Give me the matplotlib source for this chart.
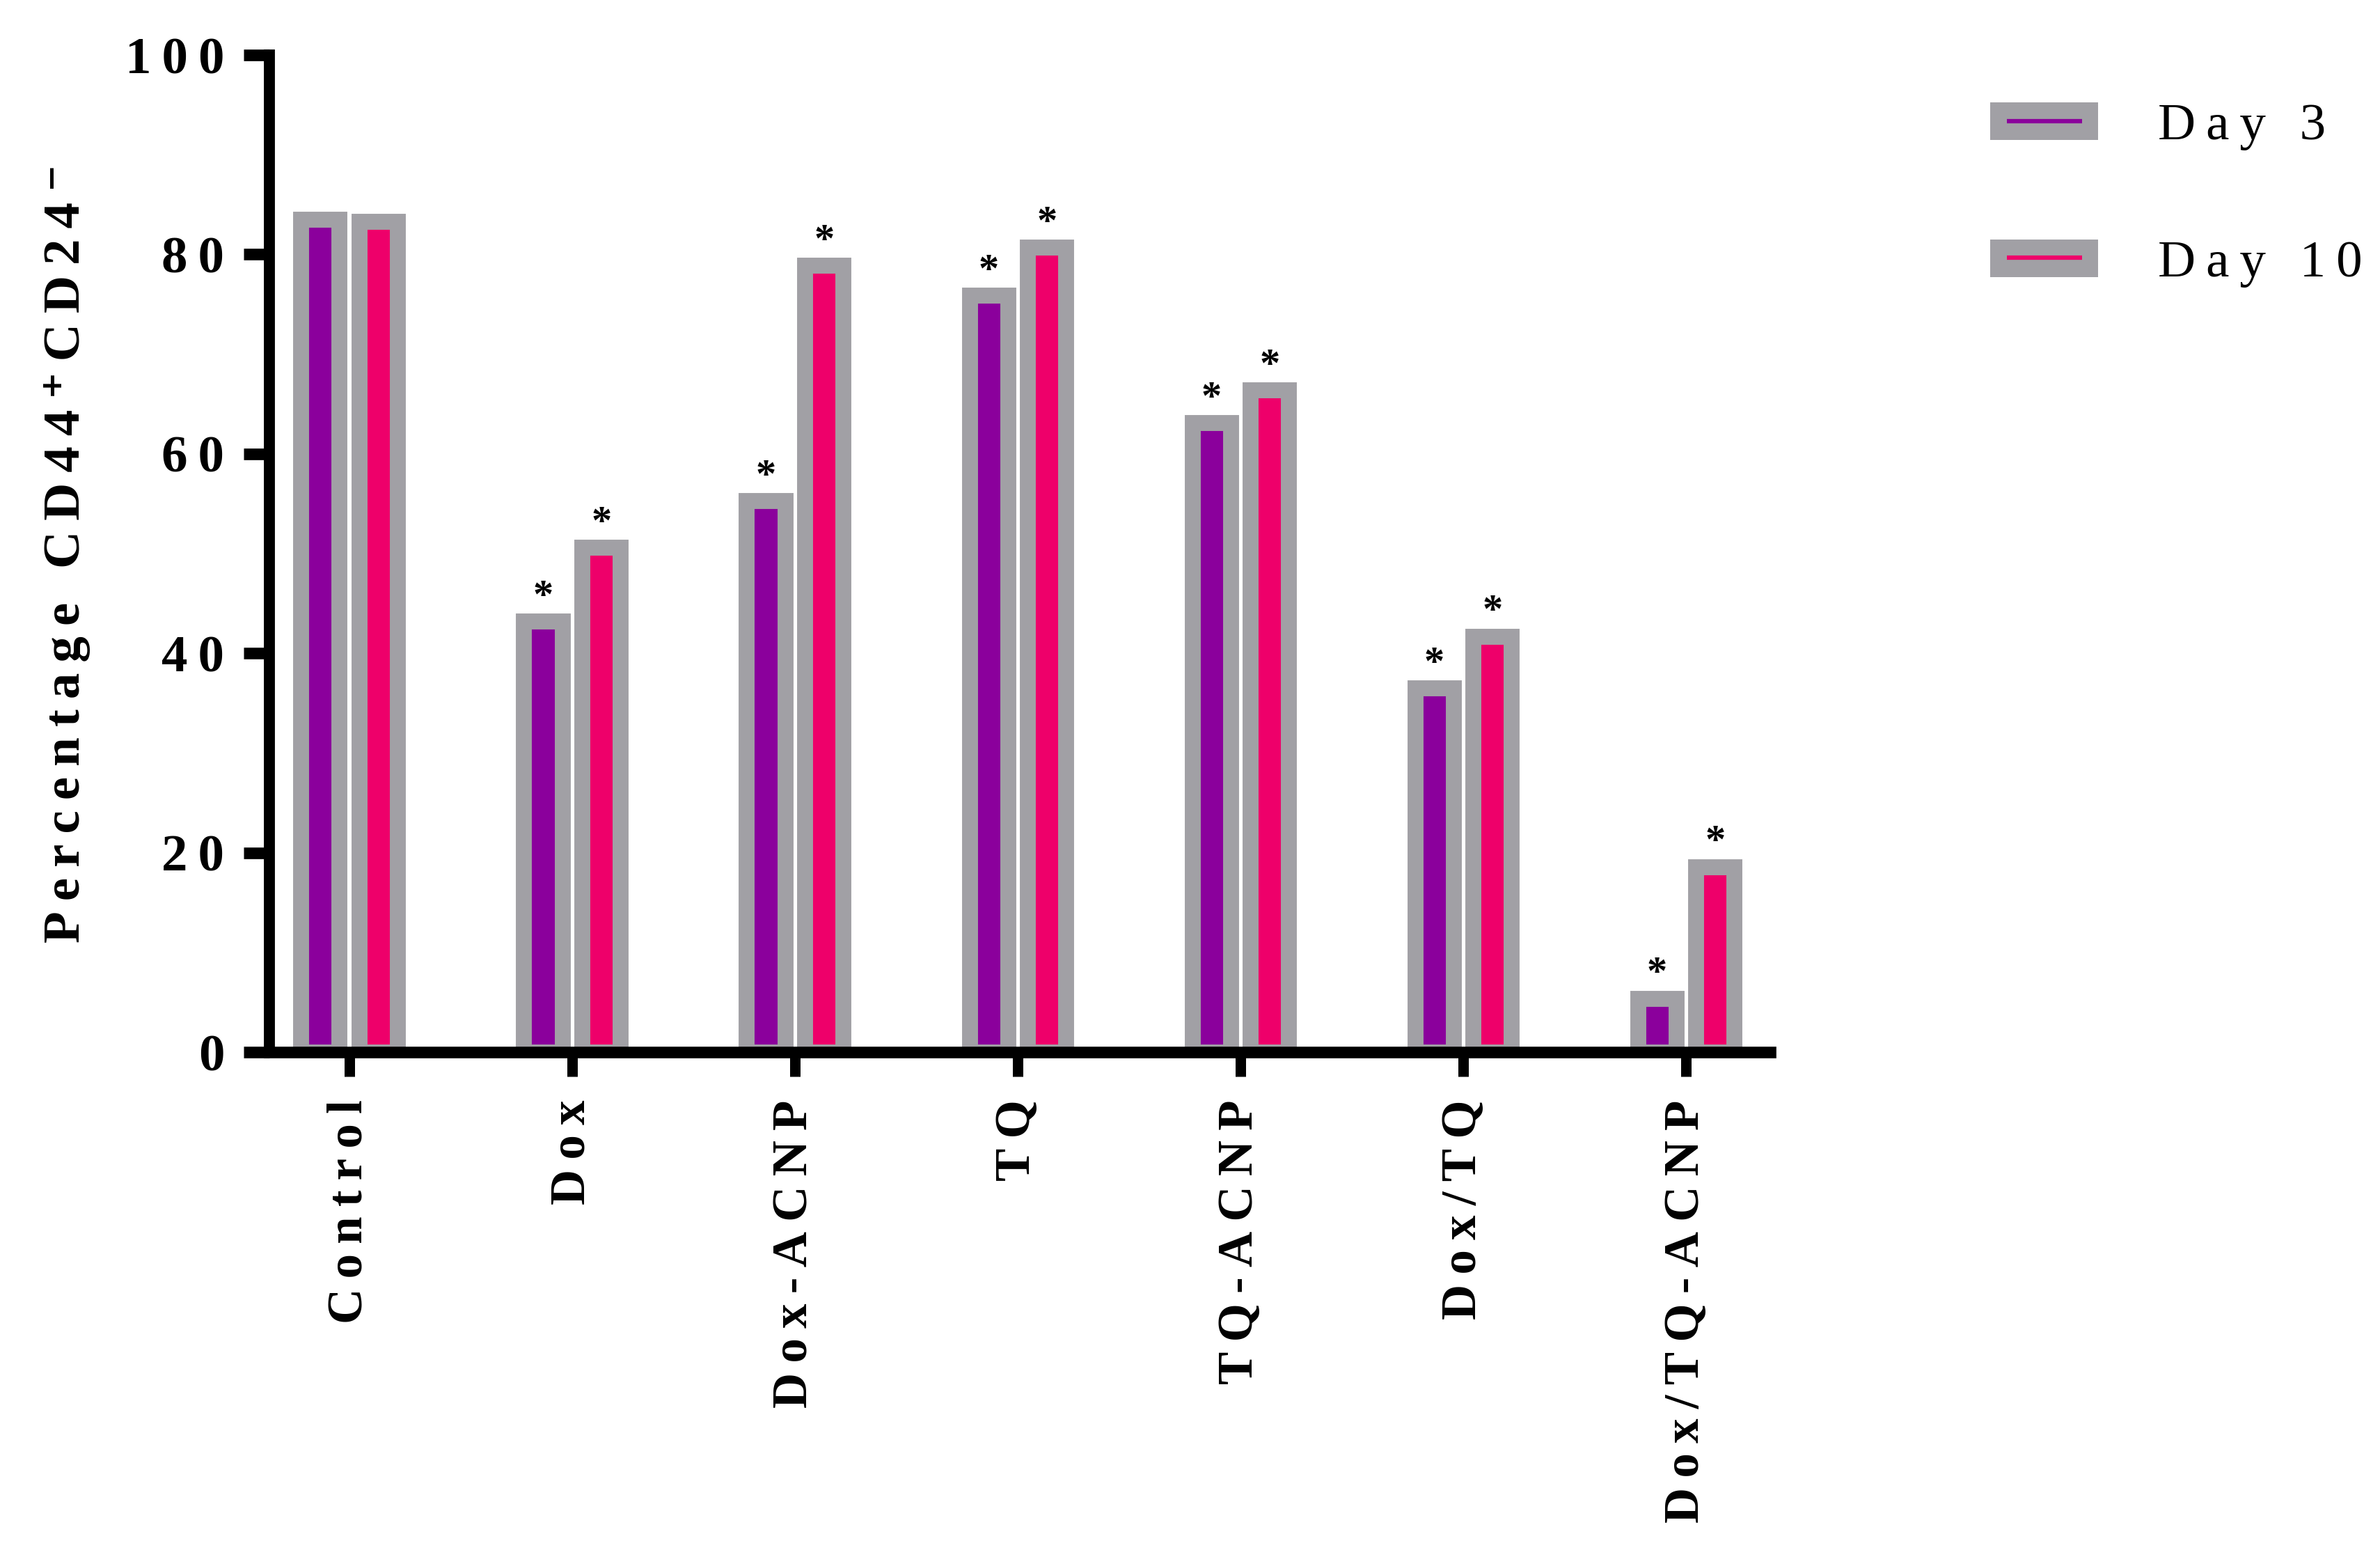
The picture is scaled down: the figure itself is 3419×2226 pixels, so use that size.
import matplotlib
matplotlib.use('Agg')
import matplotlib.pyplot as plt
from matplotlib.patches import Patch
from matplotlib.lines import Line2D
import numpy as np

# data
groups = ['Control', 'Dox', 'Dox-ACNP', 'TQ', 'TQ-ACNP', 'Dox/TQ', 'Dox/TQ-ACNP']
day3 = [83.5, 43.2, 55.3, 75.9, 63.1, 36.5, 5.4]
day10 = [83.3, 50.6, 78.9, 80.7, 66.4, 41.7, 18.6]
sig_day3 = [False, True, True, True, True, True, True]
sig_day10 = [False, True, True, True, True, True, True]
yticks = [0, 20, 40, 60, 80, 100]
series_labels = ['Day 3', 'Day 10']
ylabel = 'Percentage CD44\u207aCD24\u207b'

purple = '#8B009C'
pink = '#EE006A'
gray = '#A1A0A5'

plt.rcParams['font.family'] = ['Liberation Serif', 'DejaVu Serif']


def spaced(s):
    # the original uses wide letter spacing
    return '\u2009'.join(s)


fig = plt.figure(figsize=(3419 / 300, 2226 / 300), dpi=300)
ax = fig.add_axes([387 / 3419, 1 - 1511 / 2226, (2543 - 387) / 3419, (1511 - 79) / 2226])

x = np.arange(len(groups))
width = 0.172
offset = 0.131
edge = 5.5

ax.bar(x - offset, day3, width, color=purple, edgecolor=gray, linewidth=edge)
ax.bar(x + offset, day10, width, color=pink, edgecolor=gray, linewidth=edge)

# significance stars
for xi, v, s in zip(x - offset, day3, sig_day3):
    if s:
        ax.text(xi, v + 0.6, '*', ha='center', va='bottom', fontsize=14, fontweight='bold')
for xi, v, s in zip(x + offset, day10, sig_day10):
    if s:
        ax.text(xi, v + 0.6, '*', ha='center', va='bottom', fontsize=14, fontweight='bold')

ax.set_xlim(-0.359, 6.378)
ax.set_ylim(0, 100)

ax.spines['top'].set_visible(False)
ax.spines['right'].set_visible(False)
ax.spines['left'].set_linewidth(3.8)
ax.spines['bottom'].set_linewidth(4.0)

ax.set_yticks(yticks)
ax.set_yticklabels([spaced(str(t)) for t in yticks], fontsize=18, fontweight='bold')
ax.tick_params(axis='y', length=9, width=4, pad=6.5)

ax.set_xticks(x)
ax.set_xticklabels([spaced(g) for g in groups], rotation=90, fontsize=17, fontweight='bold')
ax.tick_params(axis='x', length=8.4, width=3.6, pad=8)

ax.set_ylabel(spaced(ylabel), fontsize=18, fontweight='bold')
ax.yaxis.set_label_coords(-0.119, 0.5)

# legend: gray box with a colored dash
handles = [
    (Patch(facecolor=gray, edgecolor='none'),
     Line2D([], [], ls='none', marker='_', ms=26, mew=1.5, color=purple)),
    (Patch(facecolor=gray, edgecolor='none'),
     Line2D([], [], ls='none', marker='_', ms=26, mew=1.5, color=pink)),
]
fig.legend(handles, [spaced(s) for s in series_labels], loc='upper left',
           bbox_to_anchor=(2859 / 3419, 1 - 147 / 2226), bbox_transform=fig.transFigure,
           frameon=False, fontsize=18, borderpad=0, borderaxespad=0,
           handlelength=2.07, handleheight=0.73, handletextpad=1.15, labelspacing=1.7)

fig.savefig('out.png', dpi=300)
print("saved out.png")
